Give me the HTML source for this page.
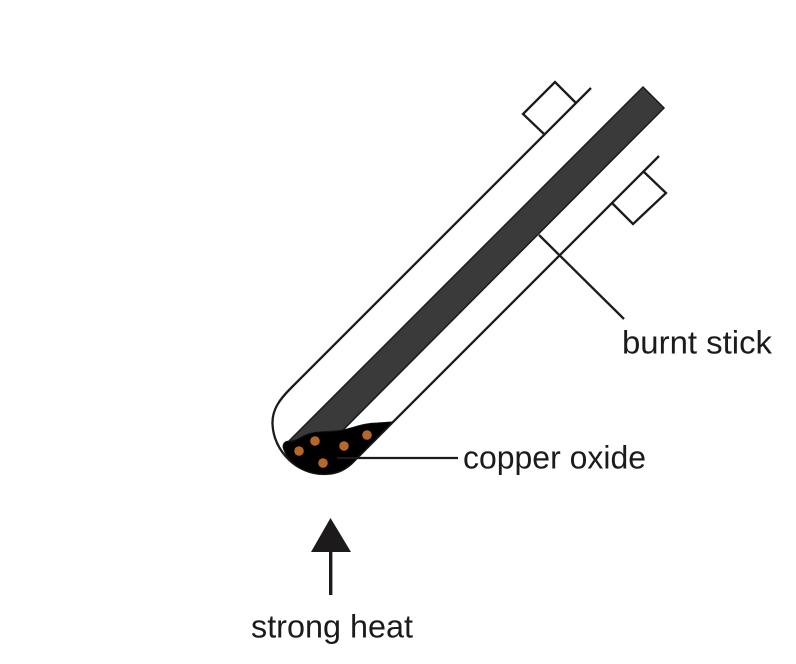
<!DOCTYPE html>
<html>
<head>
<meta charset="utf-8">
<style>
html,body{margin:0;padding:0;background:#fff;}
svg{display:block;}
text{font-family:"Liberation Sans",sans-serif;font-size:32px;fill:#1c1a1b;}
</style>
</head>
<body>
<svg width="796" height="664" viewBox="0 0 796 664" xmlns="http://www.w3.org/2000/svg">
  <!-- stick -->
  <polygon points="643,87 664,108 340,433 291,441 287,443" fill="#3a3a3a" stroke="#1c1a1b" stroke-width="1.5"/>
  <!-- tube -->
  <path d="M591,88 L291,388 C279,400 272,410 272.500,424 C273.500,452 298,474 323,474 C335,474 343,471 351,464 L659,156" fill="none" stroke="#1c1a1b" stroke-width="2.300"/>
  <!-- tabs -->
  <polyline points="576,103 555,82 523,114 544,134" fill="none" stroke="#1c1a1b" stroke-width="2.300"/>
  <polyline points="644,172 666,193 633,224 612,203" fill="none" stroke="#1c1a1b" stroke-width="2.300"/>
  <!-- copper oxide -->
  <path d="M283,447 C283,442 287,440 291,442 C297,441 302,435 312,433 C322,431 333,432 343,430 C353,428 364,423 377,423 L392,422 L351,464 C343,471 335,474 323,474 C304,474 287,462 283,447 Z" fill="#000" stroke="#111" stroke-width="1"/>
  <g fill="#b5682a">
    <circle cx="299" cy="451" r="4.800"/>
    <circle cx="315" cy="441" r="4.800"/>
    <circle cx="344" cy="446" r="4.800"/>
    <circle cx="367" cy="435" r="4.800"/>
    <circle cx="323" cy="463" r="4.800"/>
  </g>
  <!-- leaders -->
  <line x1="337" y1="458" x2="458" y2="458" stroke="#1c1a1b" stroke-width="2.300"/>
  <line x1="539" y1="235" x2="624" y2="319" stroke="#1c1a1b" stroke-width="2.300"/>
  <!-- arrow -->
  <polygon points="330.500,518 311,552 351,552" fill="#1c1a1b"/>
  <rect x="329" y="551" width="3.400" height="44" fill="#1c1a1b"/>
  <!-- labels -->
  <text x="622" y="353.500" textLength="150" lengthAdjust="spacingAndGlyphs">burnt stick</text>
  <text x="463" y="468.500" textLength="183" lengthAdjust="spacingAndGlyphs">copper oxide</text>
  <text x="251" y="637.500" textLength="162" lengthAdjust="spacingAndGlyphs">strong heat</text>
</svg>
</body>
</html>
